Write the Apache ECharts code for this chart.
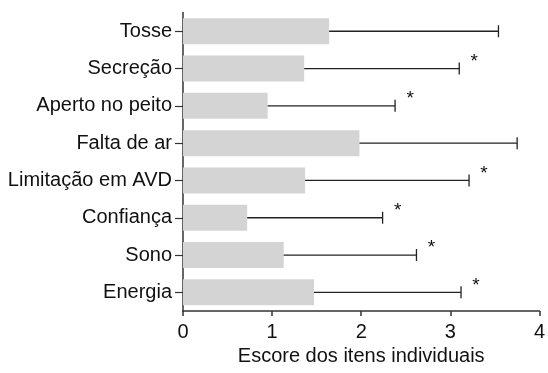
<!DOCTYPE html>
<html>
<head>
<meta charset="utf-8">
<script src="https://cdn.jsdelivr.net/npm/echarts@6/dist/echarts.min.js"></script>
<style>
  html, body { margin: 0; padding: 0; background: #fff; }
  #chart { width: 548px; height: 373px; }
</style>
</head>
<body>
<div id="chart"></div>
<script>
// Item scores (mean + upper SD) for the questionnaire domains
var categories = ['Tosse', 'Secreção', 'Aperto no peito', 'Falta de ar', 'Limitação em AVD', 'Confiança', 'Sono', 'Energia'];
var means = [1.64, 1.36, 0.95, 1.98, 1.37, 0.72, 1.13, 1.47];
var upper = [3.54, 3.10, 2.38, 3.75, 3.21, 2.24, 2.62, 3.12];
var significance = ['', '*', '*', '', '*', '*', '*', '*'];
var xTicks = [0, 1, 2, 3, 4];
var xTitle = 'Escore dos itens individuais';

var FONT = 'Liberation Sans, Arial, sans-serif';
var chart = echarts.init(document.getElementById('chart'), null, { renderer: 'canvas' });

var errData = categories.map(function (c, i) { return [means[i], i, upper[i]]; });

chart.setOption({
  animation: false,
  backgroundColor: '#fff',
  grid: { left: 183, right: 6, top: 12.6, bottom: 62, containLabel: false },
  xAxis: {
    type: 'value',
    min: xTicks[0],
    max: xTicks[xTicks.length - 1],
    interval: 1,
    name: xTitle,
    nameLocation: 'middle',
    nameGap: 29,
    nameTextStyle: { color: '#111', fontSize: 20, fontFamily: FONT },
    axisLine: { show: true, lineStyle: { color: '#333', width: 1.5 } },
    axisTick: { show: true, length: 5, inside: false, lineStyle: { color: '#333', width: 1.5 } },
    axisLabel: { color: '#111', fontSize: 20, fontFamily: FONT, margin: 11 },
    splitLine: { show: false }
  },
  yAxis: {
    type: 'category',
    data: categories,
    inverse: true,
    axisLine: { show: true, lineStyle: { color: '#333', width: 1.5 } },
    axisTick: { show: true, length: 8, alignWithLabel: true, lineStyle: { color: '#333', width: 1.2 } },
    axisLabel: { color: '#111', fontSize: 20, fontFamily: FONT, margin: 11 }
  },
  series: [
    {
      type: 'bar',
      data: means,
      barWidth: 26,
      itemStyle: { color: '#d4d4d4' },
      silent: true
    },
    {
      type: 'custom',
      data: errData,
      silent: true,
      z: 5,
      renderItem: function (params, api) {
        var i = api.value(1);
        var start = api.coord([api.value(0), i]);
        var end = api.coord([api.value(2), i]);
        var y = start[1];
        var children = [
          { type: 'line', shape: { x1: start[0], y1: y, x2: end[0], y2: y },
            style: { stroke: '#222', lineWidth: 1.3 } },
          { type: 'line', shape: { x1: end[0], y1: y - 6, x2: end[0], y2: y + 6 },
            style: { stroke: '#222', lineWidth: 1.3 } }
        ];
        if (significance[i]) {
          children.push({
            type: 'text',
            style: {
              text: significance[i], x: end[0] + 15, y: y - 7,
              fill: '#111', font: '19px ' + FONT,
              align: 'center', verticalAlign: 'middle'
            }
          });
        }
        return { type: 'group', children: children };
      }
    }
  ]
});
</script>
</body>
</html>
